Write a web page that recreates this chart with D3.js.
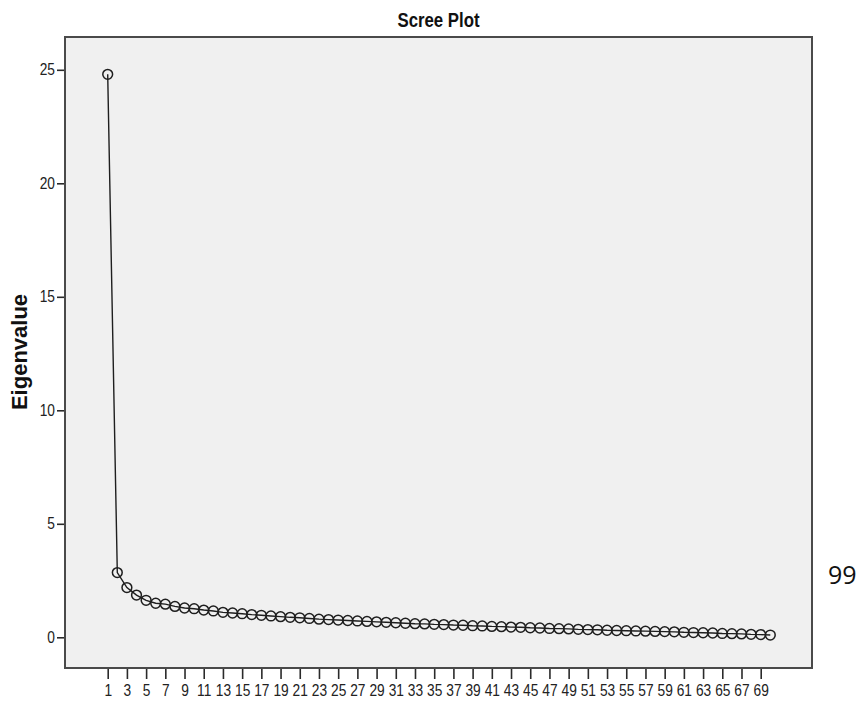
<!DOCTYPE html>
<html>
<head>
<meta charset="utf-8">
<script src="https://cdn.jsdelivr.net/npm/d3@7"></script>
<style>
  html, body { margin: 0; padding: 0; background: #ffffff; }
  svg { display: block; }
</style>
</head>
<body>
<svg id="chart" width="860" height="704"></svg>
<script>
// ---- data ----
const components = d3.range(1, 71);
const eigenvalues = [
  24.80, 2.85, 2.19, 1.86, 1.63, 1.50, 1.46, 1.36, 1.29, 1.26,
  1.20, 1.16, 1.10, 1.07, 1.04, 1.00, 0.97, 0.94, 0.91, 0.88,
  0.86, 0.83, 0.80, 0.78, 0.76, 0.74, 0.72, 0.70, 0.68, 0.66,
  0.64, 0.62, 0.60, 0.59, 0.57, 0.56, 0.54, 0.53, 0.51, 0.50,
  0.48, 0.47, 0.45, 0.44, 0.42, 0.41, 0.39, 0.38, 0.37, 0.35,
  0.34, 0.33, 0.31, 0.30, 0.29, 0.28, 0.27, 0.26, 0.25, 0.24,
  0.22, 0.21, 0.20, 0.19, 0.17, 0.16, 0.15, 0.13, 0.12, 0.10
];
const xTickLabels = d3.range(1, 70, 2);
const yTickLabels = [0, 5, 10, 15, 20, 25];
const titleText = "Scree Plot";
const yAxisTitle = "Eigenvalue";
const sideNote = "99";

// ---- layout ----
const frame = { x0: 65, y0: 37, x1: 812, y1: 668 };
const svg = d3.select("#chart");
const FONT = "'Liberation Sans', Arial, sans-serif";
const SX = 0.86;

const x = d3.scaleLinear().domain([1, 69]).range([107.7, 760.7]);
const y = d3.scaleLinear().domain([0, 25]).range([637.3, 69.8]);

// plot background
svg.append("rect")
  .attr("x", frame.x0).attr("y", frame.y0)
  .attr("width", frame.x1 - frame.x0).attr("height", frame.y1 - frame.y0)
  .attr("fill", "#f0f0f0").attr("stroke", "none");

// x axis
const xAxis = svg.append("g")
  .attr("transform", `translate(0,${frame.y1})`)
  .call(d3.axisBottom(x).tickValues(xTickLabels).tickSize(11).tickPadding(6).tickFormat(d3.format("d")));
xAxis.attr("font-size", 16).attr("font-family", FONT);
xAxis.select(".domain").remove();
xAxis.selectAll(".tick line").attr("stroke", "#2a2a2a").attr("stroke-width", 1.6);
xAxis.selectAll(".tick text")
  .attr("fill", "#222")
  .attr("transform", `scale(${SX},1)`)
  .style("font-family", FONT)
  .style("font-size", "16px");

// y axis
const yAxis = svg.append("g")
  .attr("transform", `translate(${frame.x0},0)`)
  .call(d3.axisLeft(y).tickValues(yTickLabels).tickSize(8).tickPadding(2).tickFormat(d3.format("d")));
yAxis.attr("font-size", 16).attr("font-family", FONT);
yAxis.select(".domain").remove();
yAxis.selectAll(".tick line").attr("stroke", "#2a2a2a").attr("stroke-width", 1.6);
yAxis.selectAll(".tick text")
  .attr("fill", "#222")
  .attr("x", -10 / SX)
  .attr("transform", `scale(${SX},1)`)
  .style("font-family", FONT)
  .style("font-size", "16px");

// frame border
svg.append("rect")
  .attr("x", frame.x0).attr("y", frame.y0)
  .attr("width", frame.x1 - frame.x0).attr("height", frame.y1 - frame.y0)
  .attr("fill", "none").attr("stroke", "#4a4a4a").attr("stroke-width", 2);

// line
const pts = components.map((c, i) => ({ c, v: eigenvalues[i] }));
svg.append("path")
  .datum(pts)
  .attr("fill", "none")
  .attr("stroke", "#1e1e1e")
  .attr("stroke-width", 1.4)
  .attr("d", d3.line().x(d => x(d.c)).y(d => y(d.v)));

// markers
svg.append("g").selectAll("circle")
  .data(pts).join("circle")
  .attr("cx", d => x(d.c)).attr("cy", d => y(d.v))
  .attr("r", 4.9)
  .attr("fill", "none")
  .attr("stroke", "#1e1e1e")
  .attr("stroke-width", 1.5);

// title
svg.append("text")
  .attr("transform", `translate(${(frame.x0 + frame.x1) / 2},27) scale(0.8,1)`)
  .attr("text-anchor", "middle")
  .style("font-family", FONT)
  .style("font-weight", "bold")
  .style("font-size", "21px")
  .attr("fill", "#111")
  .text(titleText);

// y title
svg.append("text")
  .attr("transform", "translate(27,352) rotate(-90)")
  .attr("text-anchor", "middle")
  .style("font-family", FONT)
  .style("font-weight", "bold")
  .style("font-size", "22px")
  .attr("fill", "#111")
  .text(yAxisTitle);

// side note
svg.append("text")
  .attr("x", 828).attr("y", 584)
  .style("font-family", "'Open Sans', sans-serif")
  .style("font-size", "25px")
  .attr("fill", "#111")
  .text(sideNote);
</script>
</body>
</html>
